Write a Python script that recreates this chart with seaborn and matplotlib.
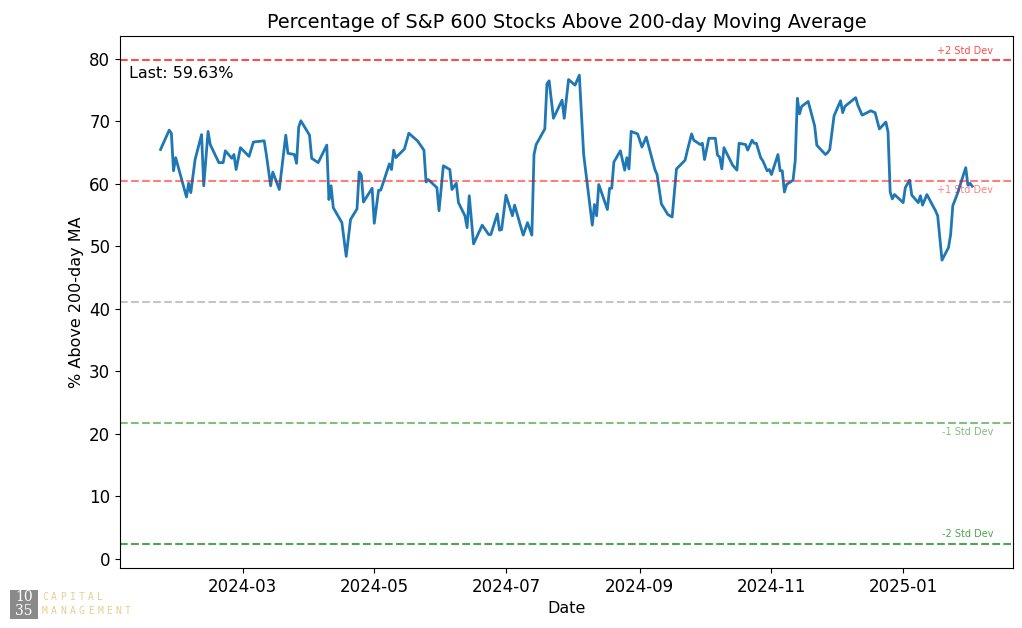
import pandas as pd
import matplotlib
matplotlib.use("Agg")
import matplotlib.pyplot as plt
import matplotlib.transforms as mtransforms
from matplotlib.patches import Rectangle
import seaborn as sns


# values (breadth % of S&P 600 names above their 200-day MA)
dates = [
    "2024-01-23", "2024-01-27", "2024-01-28", "2024-01-29", "2024-01-30", "2024-02-04",
    "2024-02-05", "2024-02-06", "2024-02-08", "2024-02-11", "2024-02-12", "2024-02-14",
    "2024-02-15", "2024-02-19", "2024-02-21", "2024-02-22", "2024-02-25", "2024-02-26",
    "2024-02-27", "2024-02-29", "2024-03-04", "2024-03-06", "2024-03-11", "2024-03-12",
    "2024-03-14", "2024-03-15", "2024-03-18", "2024-03-21", "2024-03-22", "2024-03-25",
    "2024-03-26", "2024-03-27", "2024-03-28", "2024-04-01", "2024-04-02", "2024-04-05",
    "2024-04-09", "2024-04-10", "2024-04-11", "2024-04-12", "2024-04-16", "2024-04-18",
    "2024-04-20", "2024-04-23", "2024-04-24", "2024-04-25", "2024-04-26", "2024-04-30",
    "2024-05-01", "2024-05-03", "2024-05-04", "2024-05-08", "2024-05-09", "2024-05-10",
    "2024-05-11", "2024-05-15", "2024-05-17", "2024-05-21", "2024-05-24", "2024-05-25",
    "2024-05-26", "2024-05-30", "2024-05-31", "2024-06-02", "2024-06-05", "2024-06-06",
    "2024-06-08", "2024-06-09", "2024-06-12", "2024-06-13", "2024-06-14", "2024-06-16",
    "2024-06-20", "2024-06-23", "2024-06-24", "2024-06-27", "2024-06-28", "2024-06-29",
    "2024-07-01", "2024-07-04", "2024-07-05", "2024-07-09", "2024-07-11", "2024-07-13",
    "2024-07-14", "2024-07-15", "2024-07-19", "2024-07-20", "2024-07-21", "2024-07-23",
    "2024-07-27", "2024-07-28", "2024-07-30", "2024-08-02", "2024-08-04", "2024-08-06",
    "2024-08-10", "2024-08-11", "2024-08-12", "2024-08-13", "2024-08-14", "2024-08-17",
    "2024-08-18", "2024-08-19", "2024-08-20", "2024-08-23", "2024-08-25", "2024-08-26",
    "2024-08-27", "2024-08-28", "2024-08-31", "2024-09-02", "2024-09-04", "2024-09-08",
    "2024-09-09", "2024-09-11", "2024-09-14", "2024-09-16", "2024-09-18", "2024-09-22",
    "2024-09-23", "2024-09-25", "2024-09-26", "2024-09-29", "2024-09-30", "2024-10-01",
    "2024-10-03", "2024-10-06", "2024-10-07", "2024-10-08", "2024-10-09", "2024-10-10",
    "2024-10-14", "2024-10-16", "2024-10-17", "2024-10-20", "2024-10-21", "2024-10-23",
    "2024-10-24", "2024-10-25", "2024-10-27", "2024-10-28", "2024-10-30", "2024-10-31",
    "2024-11-01", "2024-11-04", "2024-11-05", "2024-11-06", "2024-11-07", "2024-11-08",
    "2024-11-11", "2024-11-12", "2024-11-13", "2024-11-14", "2024-11-15", "2024-11-18",
    "2024-11-21", "2024-11-22", "2024-11-26", "2024-11-27", "2024-11-28", "2024-11-30",
    "2024-12-03", "2024-12-04", "2024-12-05", "2024-12-10", "2024-12-11", "2024-12-13",
    "2024-12-17", "2024-12-19", "2024-12-21", "2024-12-24", "2024-12-25", "2024-12-26",
    "2024-12-27", "2024-12-28", "2025-01-01", "2025-01-02", "2025-01-04", "2025-01-05",
    "2025-01-08", "2025-01-09", "2025-01-10", "2025-01-12", "2025-01-14", "2025-01-16",
    "2025-01-17", "2025-01-19", "2025-01-22", "2025-01-23", "2025-01-24", "2025-01-26",
    "2025-01-30", "2025-01-31", "2025-02-01", "2025-02-02",
]

pct_above = [
    65.5, 68.6, 68.1, 62.1, 64.2, 57.9,
    60.1, 58.6, 63.9, 67.9, 59.7, 68.4,
    66.3, 63.4, 63.4, 65.3, 64.1, 64.7,
    62.3, 65.8, 64.4, 66.7, 66.9, 64.7,
    59.7, 61.9, 59.1, 67.8, 64.9, 64.7,
    63.3, 69.1, 70.1, 67.8, 64.1, 63.4,
    66.2, 57.5, 59.7, 56.2, 53.8, 48.4,
    54.3, 56.0, 61.9, 61.4, 57.1, 59.3,
    53.7, 59.0, 59.0, 63.2, 62.3, 65.4,
    64.2, 65.6, 68.1, 66.9, 65.4, 60.3,
    60.7, 59.4, 55.7, 62.9, 62.3, 59.1,
    60.1, 57.0, 54.9, 53.0, 58.1, 50.4,
    53.4, 51.9, 51.9, 55.2, 52.6, 52.7,
    58.2, 54.9, 56.6, 51.8, 53.8, 51.8,
    64.7, 66.3, 68.8, 76.0, 76.5, 70.5,
    73.4, 70.5, 76.7, 75.8, 77.4, 64.7,
    53.4, 56.7, 54.9, 59.9, 58.9, 55.9,
    59.3, 59.3, 63.5, 65.3, 62.2, 64.2,
    62.4, 68.4, 68.0, 65.9, 67.5, 62.3,
    61.5, 56.8, 55.1, 54.7, 62.4, 63.8,
    65.3, 68.0, 67.0, 66.3, 66.5, 63.9,
    67.3, 67.3, 64.6, 64.3, 62.4, 65.8,
    63.0, 62.2, 66.5, 66.3, 65.4, 67.0,
    66.5, 66.5, 64.2, 63.7, 62.1, 62.3,
    61.5, 64.7, 62.1, 62.1, 58.7, 59.9,
    60.6, 63.7, 73.7, 71.2, 72.4, 73.2,
    69.3, 66.2, 64.7, 65.0, 65.5, 70.9,
    73.3, 71.4, 72.4, 73.8, 72.6, 71.0,
    71.7, 71.4, 68.8, 69.9, 68.3, 58.7,
    57.6, 58.3, 57.0, 59.4, 60.6, 58.2,
    57.0, 58.1, 56.6, 58.3, 57.0, 55.7,
    54.9, 47.8, 49.8, 51.9, 56.5, 58.3,
    62.6, 59.8, 60.1, 59.63,
]

# long-run mean / std of the breadth series (from the reference lines)
mean_pct = 41.1
std_pct = 19.35

bands = [
    (2, "+2 Std Dev", "red", 0.7, "bottom"),
    (1, "+1 Std Dev", "red", 0.5, "top"),
    (-1, "-1 Std Dev", "green", 0.5, "top"),
    (-2, "-2 Std Dev", "green", 0.7, "bottom"),
]

df = pd.DataFrame({"Date": pd.to_datetime(dates), "pct": pct_above})

fig, ax = plt.subplots(figsize=(10.22, 6.28), dpi=100)
fig.subplots_adjust(left=0.1174, right=0.991, top=0.9427, bottom=0.0955)

sns.lineplot(data=df, x="Date", y="pct", ax=ax, color="#1f77b4", linewidth=2)

ax.axhline(mean_pct, color="gray", linestyle="--", alpha=0.45, linewidth=1.5)
trans = mtransforms.blended_transform_factory(ax.transAxes, ax.transData)
for k, label, col, a, va in bands:
    level = mean_pct + k * std_pct
    ax.axhline(level, color=col, linestyle="--", alpha=a, linewidth=1.5)
    off = 0.7 if va == "bottom" else -0.6
    ax.text(0.978, level + off, label, transform=trans, ha="right", va=va,
            fontsize=7, color=col, alpha=a)

ax.text(0.01, 0.93, f"Last: {pct_above[-1]:.2f}%", transform=ax.transAxes,
        fontsize=11.5, va="center")

ax.set_title("Percentage of S&P 600 Stocks Above 200-day Moving Average", fontsize=13.8)
ax.set_xlabel("Date", fontsize=11.5)
ax.set_ylabel("% Above 200-day MA", fontsize=11.5)
ax.tick_params(labelsize=12)

# little logo in the bottom-left corner
fig.patches.append(Rectangle((0.0098, 0.0143), 0.0274, 0.0462, transform=fig.transFigure,
                             facecolor="#8a8a8a", edgecolor="none"))
fig.text(0.0235, 0.0495, "10", fontsize=10, family="DejaVu Serif", color="white",
         ha="center", va="center")
fig.text(0.0235, 0.0272, "35", fontsize=10, family="DejaVu Serif", color="white",
         ha="center", va="center")
for row, word in [(0.0495, "CAPITAL"), (0.0272, "MANAGEMENT")]:
    for i, ch in enumerate(word):
        fig.text(0.0412 + i * 0.0090, row, ch, fontsize=7, family="DejaVu Sans Mono",
                 color="#e4d08e", ha="left", va="center")

fig.savefig("out.png", dpi=100)
